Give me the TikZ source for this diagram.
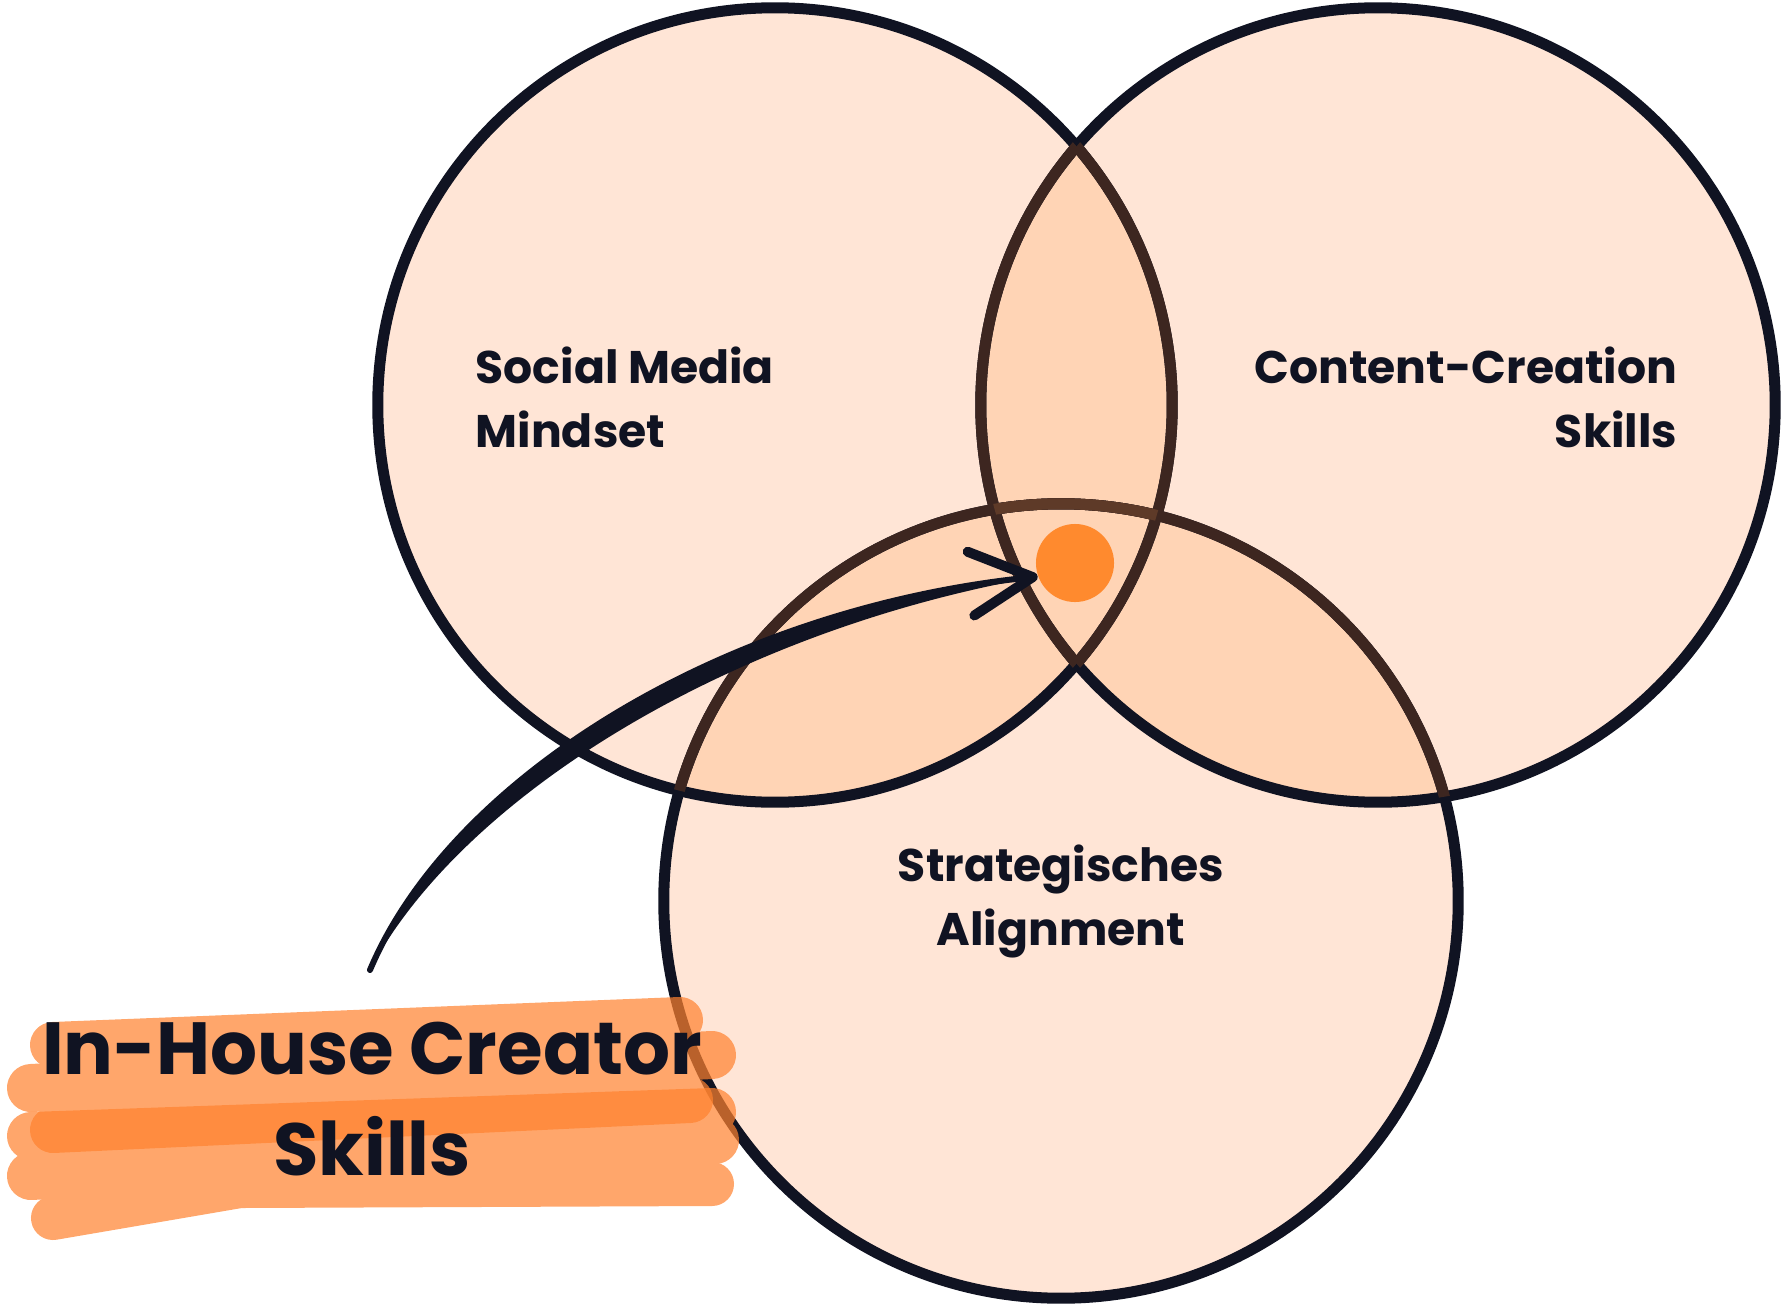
\documentclass[tikz,border=0pt]{standalone}
\usepackage{fontspec}
\setmainfont{Poppins}[BoldFont=* Bold]
\usetikzlibrary{arrows.meta,positioning}

\definecolor{ink}{RGB}{16,19,34}
\definecolor{peach}{RGB}{255,229,214}
\definecolor{peachdeep}{RGB}{255,212,181}
\definecolor{umber}{RGB}{61,38,32}
\definecolor{umberlight}{RGB}{94,58,40}
\definecolor{spot}{RGB}{255,138,46}
\definecolor{marker}{RGB}{255,130,47}

\def\smring{(775,405) circle[radius=3.97cm]}
\def\ccring{(1378,405) circle[radius=3.97cm]}
\def\saring{(1061,901) circle[radius=3.97cm]}

\begin{document}
\begin{tikzpicture}[x=0.01cm,y=-0.01cm,
 ring/.style={draw=ink,line width=0.11cm},
 lbl/.style={font=\fontsize{13}{18.2}\selectfont\bfseries,text=ink,inner sep=0pt},
 big/.style={font=\fontsize{21}{28.5}\selectfont\bfseries,text=ink,inner sep=0pt},
 dot/.style={circle,fill=spot,minimum size=0.78cm,inner sep=0pt},
 brush/.style={draw=ink,line width=0.06cm,line cap=round},
 pen/.style={draw=marker,line width=0.46cm,line cap=round}]
\useasboundingbox (0,0) rectangle (1784,1306);
% discs and their overlaps
\fill[peach] \smring; \fill[peach] \ccring; \fill[peach] \saring;
\begin{scope} \clip \smring; \fill[peachdeep] \ccring; \fill[peachdeep] \saring; \end{scope}
\begin{scope} \clip \ccring; \fill[peachdeep] \saring; \end{scope}
\draw[ring] \saring; \draw[ring] \smring; \draw[ring] \ccring;
% outlines seen through another disc
\begin{scope} \clip \ccring; \draw[ring,draw=umber] \smring; \draw[ring,draw=umber] \saring; \end{scope}
\begin{scope} \clip \smring; \draw[ring,draw=umber] \ccring; \draw[ring,draw=umber] \saring; \end{scope}
\begin{scope} \clip \smring; \clip \ccring; \draw[ring,draw=umberlight] \saring; \end{scope}
% centre spot and arrow
\node[dot] (core) at (1075,563) {};
\coordinate (tail) at (370,970);
\fill[ink] (tail) .. controls (450,780) and (720,610) .. (core.200) .. controls (724,632) and (460,800) .. (tail);
\draw[brush,-{Straight Barb[round,length=0.62cm,width=0.64cm,line width=0.1cm]}] (tail) .. controls (450,780) and (720,610) .. (core.200);
% highlighter
\begin{scope}[transparency group,opacity=0.71]
\draw[pen] (53,1045) -- (680,1020);
\draw[pen,line width=0.48cm] (31,1088) -- (712,1055);
\draw[pen] (53,1130) -- (690,1100);
\end{scope}
\begin{scope}[transparency group,opacity=0.71]
\draw[pen,line width=0.48cm] (31,1136) -- (712,1112);
\draw[pen,line width=0.48cm] (31,1176) -- (715,1140);
\draw[pen,line width=0.44cm,line join=round] (53,1218) -- (240,1186) -- (712,1184);
\end{scope}
% labels
\node[lbl,anchor=base west,align=left] (sm) at (475,447) {Social Media\\Mindset};
\node[lbl,anchor=base east,align=right] (cc) at (1678,447) {Content-Creation\\Skills};
\node[lbl,anchor=base,align=center] (sa) at (1061,945) {Strategisches\\Alignment};
\node[big,anchor=base,align=center] (ih) at (372,1175) {In-House Creator\\Skills};
\end{tikzpicture}
\end{document}
